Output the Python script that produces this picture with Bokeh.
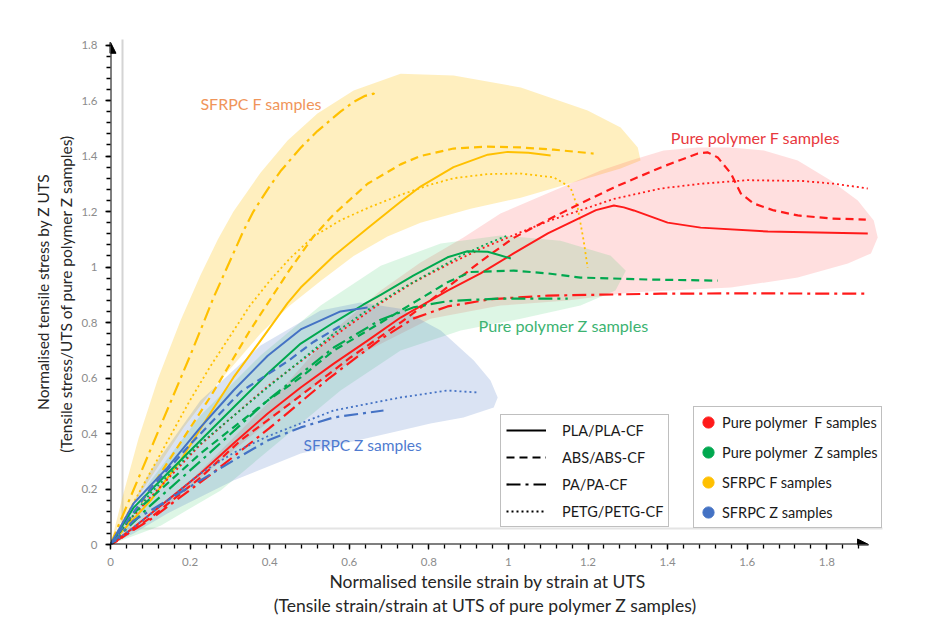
import numpy as np
from bokeh.plotting import figure
from bokeh.models import (Range1d, FixedTicker, Label, Legend, LegendItem, Arrow, NormalHead, LinearAxis,
                          BoxAnnotation)
from bokeh.embed import file_html
from bokeh.resources import INLINE

# ---------------- data ----------------
# SFRPC F samples (yellow)
sf_f_pla_x = [0, 0.025, 0.101, 0.176, 0.244, 0.309, 0.377, 0.445, 0.478, 0.561, 0.646, 0.729, 0.779, 0.862, 0.948, 0.998, 1.05, 1.106]
sf_f_pla_y = [0, 0.040, 0.159, 0.303, 0.458, 0.602, 0.735, 0.870, 0.926, 1.040, 1.140, 1.235, 1.290, 1.360, 1.405, 1.415, 1.412, 1.402]
sf_f_abs_x = [0, 0.05, 0.1, 0.15, 0.2, 0.25, 0.3, 0.35, 0.4, 0.45, 0.51, 0.561, 0.646, 0.729, 0.779, 0.862, 0.948, 1.031, 1.114, 1.214]
sf_f_abs_y = [0, 0.09, 0.2, 0.31, 0.42, 0.53, 0.65, 0.77, 0.88, 0.99, 1.11, 1.19, 1.30, 1.37, 1.40, 1.427, 1.434, 1.431, 1.423, 1.409]
sf_f_pa_x = [0, 0.05, 0.1, 0.15, 0.2, 0.234, 0.259, 0.284, 0.309, 0.334, 0.359, 0.395, 0.427, 0.478, 0.520, 0.578, 0.611, 0.64, 0.661, 0.674]
sf_f_pa_y = [0, 0.17, 0.34, 0.51, 0.68, 0.80, 0.89, 0.97, 1.05, 1.13, 1.20, 1.28, 1.345, 1.43, 1.49, 1.56, 1.595, 1.617, 1.625, 1.614]
sf_f_petg_x = [0, 0.05, 0.1, 0.15, 0.2, 0.25, 0.3, 0.35, 0.4, 0.45, 0.51, 0.58, 0.65, 0.729, 0.8, 0.862, 0.948, 1.031, 1.114, 1.156, 1.174, 1.189, 1.199]
sf_f_petg_y = [0, 0.13, 0.26, 0.39, 0.52, 0.64, 0.75, 0.86, 0.95, 1.03, 1.11, 1.17, 1.215, 1.26, 1.295, 1.32, 1.335, 1.337, 1.323, 1.287, 1.214, 1.095, 0.998]

# Pure polymer F samples (red)
pp_f_pla_x = [0, 0.058, 0.143, 0.226, 0.309, 0.395, 0.478, 0.561, 0.646, 0.729, 0.847, 0.930, 1.013, 1.099, 1.181, 1.22, 1.265, 1.29, 1.315, 1.400, 1.483, 1.652, 1.903]
pp_f_pla_y = [0, 0.061, 0.159, 0.256, 0.364, 0.472, 0.566, 0.652, 0.735, 0.818, 0.915, 0.977, 1.049, 1.121, 1.178, 1.205, 1.222, 1.215, 1.204, 1.160, 1.142, 1.128, 1.121]
pp_f_abs_x = [0, 0.018, 0.101, 0.226, 0.327, 0.478, 0.603, 0.729, 0.804, 0.872, 0.930, 1.013, 1.099, 1.181, 1.264, 1.383, 1.476, 1.501, 1.526, 1.559, 1.584, 1.616, 1.667, 1.727, 1.810, 1.898]
pp_f_abs_y = [0, 0.014, 0.097, 0.241, 0.375, 0.537, 0.674, 0.800, 0.880, 0.955, 1.020, 1.105, 1.170, 1.229, 1.286, 1.359, 1.409, 1.413, 1.395, 1.337, 1.265, 1.229, 1.204, 1.186, 1.175, 1.171]
pp_f_pa_x = [0, 0.1, 0.25, 0.4, 0.55, 0.679, 0.762, 0.847, 0.955, 1.099, 1.383, 1.6, 1.903]
pp_f_pa_y = [0, 0.09, 0.25, 0.42, 0.6, 0.74, 0.815, 0.858, 0.884, 0.897, 0.904, 0.905, 0.904]
pp_f_petg_x = [0, 0.018, 0.1, 0.226, 0.395, 0.561, 0.679, 0.762, 0.847, 0.930, 1.013, 1.099, 1.264, 1.383, 1.483, 1.6, 1.74, 1.82, 1.903]
pp_f_petg_y = [0, 0.04, 0.17, 0.36, 0.57, 0.75, 0.87, 0.945, 1.008, 1.065, 1.115, 1.165, 1.245, 1.283, 1.30, 1.313, 1.31, 1.30, 1.283]

# Pure polymer Z samples (green)
pp_z_pla_x = [0, 0.058, 0.143, 0.226, 0.309, 0.395, 0.478, 0.561, 0.636, 0.679, 0.762, 0.847, 0.897, 0.948, 1.006]
pp_z_pla_y = [0, 0.133, 0.256, 0.375, 0.494, 0.616, 0.724, 0.800, 0.865, 0.900, 0.970, 1.035, 1.057, 1.055, 1.031]
pp_z_abs_x = [0, 0.058, 0.143, 0.226, 0.309, 0.395, 0.478, 0.561, 0.646, 0.729, 0.847, 0.905, 1.013, 1.099, 1.181, 1.35, 1.526]
pp_z_abs_y = [0, 0.112, 0.220, 0.328, 0.422, 0.519, 0.602, 0.699, 0.771, 0.843, 0.945, 0.982, 0.987, 0.977, 0.962, 0.955, 0.951]
pp_z_pa_x = [0, 0.1, 0.226, 0.395, 0.561, 0.679, 0.762, 0.847, 0.973, 1.149]
pp_z_pa_y = [0, 0.14, 0.30, 0.52, 0.71, 0.81, 0.855, 0.877, 0.886, 0.886]
pp_z_petg_x = [0, 0.1, 0.226, 0.395, 0.561, 0.646, 0.729, 0.804, 0.88, 0.94, 0.998]
pp_z_petg_y = [0, 0.184, 0.364, 0.566, 0.76, 0.845, 0.92, 0.98, 1.04, 1.08, 1.114]

# SFRPC Z samples (blue)
sf_z_pla_x = [0, 0.058, 0.143, 0.226, 0.309, 0.395, 0.478, 0.578, 0.646]
sf_z_pla_y = [0, 0.148, 0.277, 0.422, 0.555, 0.680, 0.775, 0.840, 0.854]
sf_z_abs_x = [0, 0.1, 0.2, 0.327, 0.445, 0.51, 0.58]
sf_z_abs_y = [0, 0.2, 0.36, 0.55, 0.66, 0.73, 0.79]
sf_z_pa_x = [0, 0.058, 0.143, 0.226, 0.309, 0.395, 0.478, 0.561, 0.686]
sf_z_pa_y = [0, 0.086, 0.159, 0.231, 0.303, 0.375, 0.422, 0.458, 0.483]
sf_z_petg_x = [0, 0.058, 0.143, 0.226, 0.309, 0.395, 0.561, 0.729, 0.847, 0.922]
sf_z_petg_y = [0, 0.061, 0.159, 0.256, 0.330, 0.390, 0.483, 0.530, 0.555, 0.548]

# shaded group envelopes
sf_f_area_x = [0, 0.03, 0.07, 0.12, 0.176, 0.226, 0.27, 0.309, 0.377, 0.445, 0.520, 0.611, 0.729, 0.862, 1.031, 1.199, 1.282, 1.325, 1.332, 1.282, 1.199, 1.031, 0.905, 0.779, 0.696, 0.611, 0.528, 0.45, 0.377, 0.269, 0.184, 0.101, 0.018]
sf_f_area_y = [0, 0.17, 0.38, 0.60, 0.807, 0.97, 1.10, 1.20, 1.34, 1.456, 1.553, 1.636, 1.697, 1.690, 1.647, 1.564, 1.503, 1.431, 1.384, 1.355, 1.320, 1.250, 1.210, 1.160, 1.110, 1.040, 0.950, 0.860, 0.760, 0.580, 0.422, 0.241, 0.061]
pp_f_area_x = [0, 0.143, 0.309, 0.478, 0.646, 0.804, 0.980, 1.149, 1.307, 1.559, 1.727, 1.853, 1.911, 1.928, 1.918, 1.878, 1.810, 1.727, 1.642, 1.559, 1.476, 1.390, 1.307, 1.232, 1.131, 0.980, 0.887, 0.779, 0.679, 0.561, 0.427, 0.302, 0.176, 0.075]
pp_f_area_y = [0, 0.141, 0.339, 0.537, 0.699, 0.814, 0.861, 0.879, 0.908, 0.926, 0.962, 1.013, 1.049, 1.106, 1.168, 1.240, 1.312, 1.384, 1.420, 1.431, 1.431, 1.420, 1.384, 1.348, 1.286, 1.193, 1.106, 1.016, 0.915, 0.771, 0.555, 0.375, 0.195, 0.068]
pp_z_area_x = [0, 0.101, 0.226, 0.377, 0.528, 0.679, 0.830, 0.980, 1.131, 1.257, 1.295, 1.269, 1.181, 1.031, 0.880, 0.729, 0.578, 0.427, 0.277, 0.126]
pp_z_area_y = [0, 0.231, 0.465, 0.681, 0.861, 1.005, 1.085, 1.114, 1.095, 1.041, 0.987, 0.915, 0.861, 0.814, 0.771, 0.699, 0.555, 0.375, 0.195, 0.068]
sf_z_area_x = [0, 0.101, 0.226, 0.377, 0.528, 0.628, 0.729, 0.830, 0.913, 0.955, 0.973, 0.963, 0.887, 0.804, 0.729, 0.478, 0.309, 0.143, 0.058]
sf_z_area_y = [0, 0.267, 0.519, 0.717, 0.843, 0.872, 0.850, 0.771, 0.663, 0.591, 0.530, 0.494, 0.458, 0.436, 0.411, 0.328, 0.231, 0.112, 0.040]

x_ticks = [0, 0.2, 0.4, 0.6, 0.8, 1.0, 1.2, 1.4, 1.6, 1.8]
x_tick_labels = ["0", "0.2", "0.4", "0.6", "0.8", "1", "1.2", "1.4", "1.6", "1.8"]
y_ticks = [0, 0.2, 0.4, 0.6, 0.8, 1.0, 1.2, 1.4, 1.6, 1.8]
y_tick_labels = ["0", "0.2", "0.4", "0.6", "0.8", "1", "1.2", "1.4", "1.6", "1.8"]

material_names = ["PLA/PLA-CF", "ABS/ABS-CF", "PA/PA-CF", "PETG/PETG-CF"]
group_names = ["Pure polymer  F samples", "Pure polymer  Z samples", "SFRPC F samples", "SFRPC Z samples"]

x_title = ["Normalised tensile strain by strain at UTS",
           "(Tensile strain/strain at UTS of pure polymer  Z samples)"]
y_title = ["Normalised tensile stress by Z UTS",
           "(Tensile stress/UTS of pure polymer  Z samples)"]

# ---------------- styles ----------------
FONT = "Lato"
RED, GREEN, YELLOW, BLUE = "#FF1A1A", "#00A84F", "#FFC000", "#4472C4"
dashes = {"pla": "solid", "abs": "8 5", "pa": "14 5 3 5", "petg": "2 3"}
widths = {"pla": 2, "abs": 2.2, "pa": 2.2, "petg": 1.8}
NB = "\u00a0"

p = figure(width=942, height=633, output_backend="svg", toolbar_location=None,
           x_range=Range1d(0, 1.94), y_range=Range1d(0, 1.82),
           min_border_left=110, min_border_right=60, min_border_top=39, min_border_bottom=89)
p.outline_line_color = None
p.grid.grid_line_color = None
p.background_fill_color = "white"
p.border_fill_color = "white"

# faint page border (screenshot frame)
p.add_layout(BoxAnnotation(left=11, right=13, top=16, bottom=2000, left_units="screen", right_units="screen",
                           top_units="screen", bottom_units="screen", fill_color="#D4D4D4", fill_alpha=1,
                           line_color=None, level="underlay"))
p.add_layout(BoxAnnotation(left=11, right=2000, top=15, bottom=17, left_units="screen", right_units="screen",
                           top_units="screen", bottom_units="screen", fill_color="#E4E4E4", fill_alpha=1,
                           line_color=None, level="underlay"))

# envelopes
p.patch(sf_f_area_x, sf_f_area_y, fill_color=YELLOW, fill_alpha=0.25, line_color=None)
p.patch(pp_f_area_x, pp_f_area_y, fill_color="#FF5050", fill_alpha=0.18, line_color=None)
p.patch(pp_z_area_x, pp_z_area_y, fill_color="#33CC66", fill_alpha=0.17, line_color=None)
p.patch(sf_z_area_x, sf_z_area_y, fill_color=BLUE, fill_alpha=0.2, line_color=None)

curves = [
    (sf_f_pla_x, sf_f_pla_y, YELLOW, "pla"), (sf_f_abs_x, sf_f_abs_y, YELLOW, "abs"),
    (sf_f_pa_x, sf_f_pa_y, YELLOW, "pa"), (sf_f_petg_x, sf_f_petg_y, YELLOW, "petg"),
    (pp_f_pla_x, pp_f_pla_y, RED, "pla"), (pp_f_abs_x, pp_f_abs_y, RED, "abs"),
    (pp_f_pa_x, pp_f_pa_y, RED, "pa"), (pp_f_petg_x, pp_f_petg_y, RED, "petg"),
    (pp_z_pla_x, pp_z_pla_y, GREEN, "pla"), (pp_z_abs_x, pp_z_abs_y, GREEN, "abs"),
    (pp_z_pa_x, pp_z_pa_y, GREEN, "pa"), (pp_z_petg_x, pp_z_petg_y, GREEN, "petg"),
    (sf_z_pla_x, sf_z_pla_y, BLUE, "pla"), (sf_z_abs_x, sf_z_abs_y, BLUE, "abs"),
    (sf_z_pa_x, sf_z_pa_y, BLUE, "pa"), (sf_z_petg_x, sf_z_petg_y, BLUE, "petg"),
]
for xs, ys, c, m in curves:
    p.line(xs, ys, line_color=c, line_width=widths[m], line_dash=dashes[m], line_join="round")

# axes
for ax in (p.xaxis[0], p.yaxis[0]):
    ax.axis_line_color = None
    ax.major_tick_line_color = "black"
    ax.minor_tick_line_color = "black"
    ax.major_tick_line_width = 1.3
    ax.minor_tick_line_width = 1.3
    ax.major_tick_out = 5
    ax.major_tick_in = 0
    ax.minor_tick_out = 4
    ax.minor_tick_in = 0
    ax.major_label_text_font = FONT
    ax.major_label_text_font_size = "11.5px"
    ax.major_label_text_color = "#8C8C8C"
    ax.axis_label_text_font = FONT
    ax.axis_label_text_font_style = "normal"
    ax.axis_label_text_color = "#262626"
p.xaxis[0].axis_label_text_font_size = "17.5px"
p.yaxis[0].axis_label_text_font_size = "15.5px"
p.xaxis[0].ticker = FixedTicker(ticks=x_ticks, minor_ticks=[round(v, 2) for v in np.arange(0, 1.9, 0.04)])
p.yaxis[0].ticker = FixedTicker(ticks=y_ticks, minor_ticks=[round(v, 2) for v in np.arange(0, 1.81, 0.04)])
p.xaxis[0].major_label_overrides = {t: s for t, s in zip(x_ticks, x_tick_labels)}
p.yaxis[0].major_label_overrides = {t: s for t, s in zip(y_ticks, y_tick_labels)}
p.xaxis[0].major_label_standoff = 8
p.yaxis[0].major_label_standoff = 8
p.xaxis[0].axis_label = x_title[0] + NB * 4
p.xaxis[0].axis_label_standoff = 2
p.yaxis[0].axis_label = y_title[1]
p.yaxis[0].axis_label_standoff = 3


def title_axis(text, standoff, size):
    return LinearAxis(ticker=FixedTicker(ticks=[]), axis_line_color=None,
                      major_tick_line_color=None, minor_tick_line_color=None,
                      major_label_text_font_size="0px", axis_label=text,
                      axis_label_standoff=standoff, axis_label_text_font=FONT,
                      axis_label_text_font_size=size, axis_label_text_font_style="normal",
                      axis_label_text_color="#262626")


p.add_layout(title_axis(x_title[1] + NB * 4, 0, "17.5px"), "below")
p.add_layout(title_axis(y_title[0], 3, "15.5px"), "left")

X_END, Y_END = 1.905, 1.81
p.add_layout(Arrow(end=NormalHead(size=11, fill_color="black", line_color="black"),
                   x_start=0, y_start=0, x_end=X_END, y_end=0, line_width=2, line_color="black"))
p.add_layout(Arrow(end=NormalHead(size=11, fill_color="black", line_color="black"),
                   x_start=0, y_start=0, x_end=0, y_end=Y_END, line_width=2, line_color="black"))

# group annotations
p.add_layout(Label(x=0.226, y=1.589, text="SFRPC F samples", text_font=FONT, text_font_size="16px",
                   text_color="#F0955A", text_baseline="middle"))
p.add_layout(Label(x=1.408, y=1.467, text="Pure polymer F samples", text_font=FONT, text_font_size="16.2px",
                   text_color="#E8383D", text_baseline="middle"))
p.add_layout(Label(x=0.925, y=0.789, text="Pure polymer Z samples", text_font=FONT, text_font_size="16.2px",
                   text_color="#3CB371", text_baseline="middle"))
p.add_layout(Label(x=0.485, y=0.357, text="SFRPC Z samples", text_font=FONT, text_font_size="15.5px",
                   text_color="#4F7BD0", text_baseline="middle"))

# legend 1: line styles
items1 = []
for name, m in zip(material_names, ["pla", "abs", "pa", "petg"]):
    r = p.line([np.nan, np.nan], [np.nan, np.nan], line_color="black", line_width=widths[m], line_dash=dashes[m])
    items1.append(LegendItem(label=name, renderers=[r]))
leg1 = Legend(items=items1, location=(390, 17), orientation="vertical",
              glyph_width=40, glyph_height=20, label_height=20, spacing=7, padding=5,
              label_standoff=16, label_width=20, margin=0,
              label_text_font=FONT, label_text_font_size="14.5px", label_text_color="#1a1a1a",
              border_line_color="#7F7F7F", border_line_width=1.5, background_fill_alpha=1)
p.add_layout(leg1)

# legend 2: groups
items2 = []
for name, c in zip(group_names, [RED, GREEN, YELLOW, BLUE]):
    r = p.scatter([np.nan], [np.nan], marker="circle", size=14, fill_color=c, line_color=c)
    items2.append(LegendItem(label=name, renderers=[r]))
leg2 = Legend(items=items2, location=(583, 16), orientation="vertical",
              glyph_width=28, glyph_height=30, label_height=20, spacing=-1, padding=0,
              label_standoff=0, label_width=159, margin=0,
              label_text_font=FONT, label_text_font_size="14.5px", label_text_color="#1a1a1a",
              border_line_color="#7F7F7F", border_line_width=1.5, background_fill_alpha=1)
p.add_layout(leg2)

open("out.html", "w").write(file_html(p, INLINE))
